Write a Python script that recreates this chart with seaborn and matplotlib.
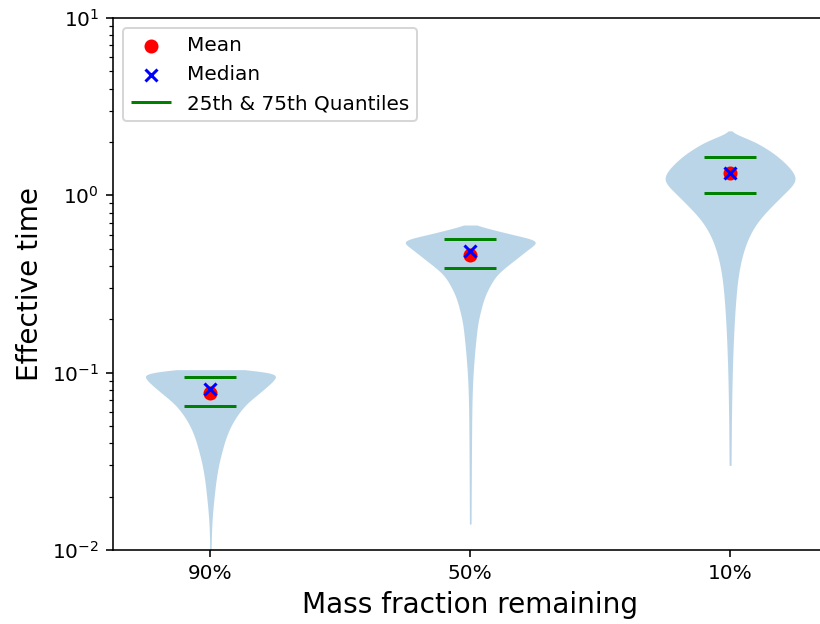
import numpy as np
import pandas as pd
import matplotlib
matplotlib.use("Agg")
import matplotlib.pyplot as plt
import seaborn as sns

# ---- data ----
categories = ["90%", "50%", "10%"]

# frequency tables (value, relative frequency) describing each violin's distribution
v90_values = [0.008, 0.012, 0.016, 0.020, 0.024, 0.028, 0.032, 0.036, 0.040, 0.044,
              0.048, 0.052, 0.056, 0.060, 0.064, 0.068, 0.072, 0.076, 0.080, 0.084,
              0.088, 0.092, 0.096, 0.100, 0.104]
v90_counts = [1, 1, 3, 6, 8, 11, 14, 18, 21, 25,
              29, 34, 39, 45, 51, 58, 66, 74, 81, 88,
              94, 99, 102, 98, 55]

v50_values = [0.014, 0.02, 0.04, 0.06, 0.08, 0.10, 0.12, 0.14, 0.16, 0.18,
              0.20, 0.22, 0.24, 0.26, 0.28, 0.30, 0.32, 0.34, 0.36, 0.38,
              0.40, 0.42, 0.44, 0.46, 0.48, 0.50, 0.52, 0.54, 0.56, 0.58,
              0.60, 0.62, 0.64, 0.66, 0.68]
v50_counts = [1, 1, 2, 2, 3, 4, 6, 7, 9, 10,
              12, 15, 17, 20, 23, 27, 31, 35, 40, 47,
              54, 61, 68, 74, 80, 86, 92, 98, 97, 80,
              62, 48, 33, 20, 8]

v10_values = [0.03, 0.09, 0.15, 0.21, 0.27, 0.33, 0.39, 0.45, 0.51, 0.57,
              0.63, 0.69, 0.75, 0.81, 0.87, 0.93, 0.99, 1.05, 1.11, 1.17,
              1.23, 1.29, 1.35, 1.41, 1.47, 1.53, 1.59, 1.65, 1.71, 1.77,
              1.83, 1.89, 1.95, 2.01, 2.07, 2.13, 2.19, 2.25, 2.31]
v10_counts = [1, 3, 5, 7, 9, 11, 14, 18, 22, 27,
              33, 39, 47, 55, 63, 71, 78, 85, 92, 97,
              100, 98, 95, 91, 87, 82, 77, 72, 67, 61,
              55, 49, 43, 36, 28, 20, 12, 5, 2]

means = [0.0765, 0.461, 1.33]
medians = [0.081, 0.488, 1.33]
q25 = [0.065, 0.389, 1.035]
q75 = [0.094, 0.567, 1.65]

# ---- build long-form table from frequency tables ----
tables = [(v90_values, v90_counts), (v50_values, v50_counts), (v10_values, v10_counts)]
frames = []
for cat, (vals, cnts) in zip(categories, tables):
    rep = np.repeat(np.asarray(vals, dtype=float), cnts)
    frames.append(pd.DataFrame({"fraction": cat, "time": rep}))
df = pd.concat(frames, ignore_index=True)

# ---- figure ----
dpi = 144
fig = plt.figure(figsize=(820 / dpi, 624 / dpi), dpi=dpi)
ax = fig.add_axes([113 / 820, 74 / 624, (827.5 - 113) / 820, 532 / 624])

sns.violinplot(data=df, x="fraction", y="time", order=categories, cut=0,
               inner=None, density_norm="width", width=0.5, bw_method=0.15,
               color="#1f77b4", saturation=1, linewidth=0, ax=ax)
for coll in ax.collections:
    coll.set_alpha(0.3)

pos = np.arange(len(categories))
h_mean = ax.scatter(pos, means, color="red", marker="o", s=36, label="Mean", zorder=3)
h_med = ax.scatter(pos, medians, color="blue", marker="x", s=36, label="Median", zorder=4)
h_q = ax.hlines(q25, pos - 0.1, pos + 0.1, color="green", lw=1.5,
                label="25th & 75th Quantiles", zorder=2)
ax.hlines(q75, pos - 0.1, pos + 0.1, color="green", lw=1.5, zorder=2)

ax.set_yscale("log")
ax.set_ylim(0.01, 10)
ax.set_xlim(-0.375, 2.375)
ax.set_xticks(pos)
ax.set_xticklabels(categories)
ax.set_xlabel("Mass fraction remaining", fontsize=14)
ax.set_ylabel("Effective time", fontsize=14)
ax.legend(handles=[h_mean, h_med, h_q], loc="upper left")

fig.savefig("out.png", dpi=dpi)
